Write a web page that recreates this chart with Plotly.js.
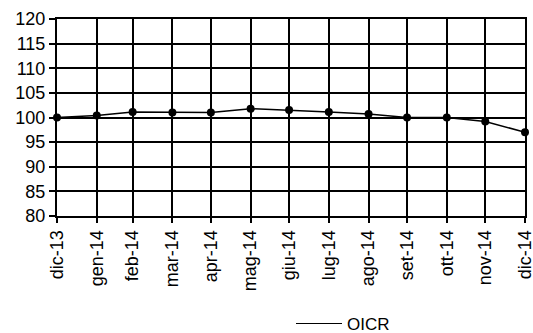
<!DOCTYPE html>
<html>
<head>
<meta charset="utf-8">
<script src="https://cdn.plot.ly/plotly-3.0.1.min.js"></script>
<style>html,body{margin:0;padding:0;background:#fff;}#chart{width:533px;height:333px;}</style>
</head>
<body>
<div id="chart"></div>
<script>
// Month-end dates for each observation
const dates = ["2013-12-31","2014-01-31","2014-02-28","2014-03-31","2014-04-30","2014-05-31","2014-06-30","2014-07-31","2014-08-31","2014-09-30","2014-10-31","2014-11-30","2014-12-31"];
const tickLabels = ["dic-13","gen-14","feb-14","mar-14","apr-14","mag-14","giu-14","lug-14","ago-14","set-14","ott-14","nov-14","dic-14"];
const oicr = [100.0, 100.4, 101.1, 101.0, 101.0, 101.8, 101.5, 101.1, 100.7, 100.0, 100.0, 99.2, 97.0];
const seriesName = "OICR";

const data = [
  {x: dates, y: oicr, type: "scatter", mode: "lines+markers", showlegend: false, cliponaxis: false,
   line: {color: "#000", width: 1.5}, marker: {color: "#000", size: 8}},
  {x: [null], y: [null], type: "scatter", mode: "lines", name: seriesName,
   line: {color: "#000", width: 1}}
];

const layout = {
  width: 533, height: 333,
  margin: {l: 57, r: 8, t: 19, b: 117, autoexpand: false},
  paper_bgcolor: "#fff", plot_bgcolor: "#fff",
  font: {family: "Liberation Sans, Arial, sans-serif", color: "#000", size: 18},
  xaxis: {type: "date", range: [dates[0], dates[dates.length-1]],
    tickvals: dates, ticktext: tickLabels, tickangle: -90,
    showgrid: true, gridcolor: "#000", gridwidth: 2,
    showline: true, linecolor: "#000", linewidth: 2, mirror: true,
    ticks: "outside", ticklen: 5, tickcolor: "#000", tickwidth: 2, automargin: false,
    ticklabeloverflow: "allow",
    tickfont: {size: 18}, zeroline: false, fixedrange: true},
  yaxis: {range: [80, 120], dtick: 5, tick0: 80,
    showgrid: true, gridcolor: "#000", gridwidth: 2,
    showline: true, linecolor: "#000", linewidth: 2, mirror: true,
    ticks: "outside", ticklen: 6, tickcolor: "#000", tickwidth: 2, automargin: false,
    tickfont: {size: 18}, zeroline: false, fixedrange: true},
  legend: {orientation: "h", x: 0.5, xanchor: "left", y: -0.548, yanchor: "middle",
    itemwidth: 46, font: {size: 17}, bgcolor: "rgba(0,0,0,0)"},
  showlegend: true
};

Plotly.newPlot("chart", data, layout, {displayModeBar: false, staticPlot: true});
</script>
</body>
</html>
